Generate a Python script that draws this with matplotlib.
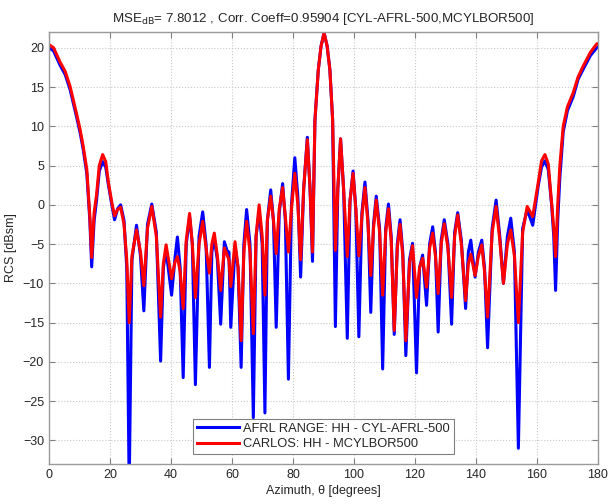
import matplotlib
matplotlib.use("Agg")
import matplotlib.pyplot as plt

plt.rcParams["font.family"] = ["Liberation Sans", "DejaVu Sans"]

# Azimuth samples (degrees): peaks, nulls and shoulders
azimut = [
    0.0, 1.5, 3.6, 5.3, 6.9, 9.1, 10.2, 11.2, 12.4, 13.4, 14.0, 14.8, 15.6, 16.5,
    17.6, 18.6, 19.5, 20.6, 21.5, 22.5, 23.5, 24.6, 25.5, 26.3, 27.2, 28.7, 30.0,
    31.1, 32.3, 33.7, 35.2, 36.6, 37.5, 38.4, 40.2, 41.3, 42.1, 43.0, 44.0, 45.0,
    46.1, 47.0, 48.0, 49.2, 50.4, 51.5, 52.6, 53.4, 54.2, 55.2, 56.3, 57.5, 58.5,
    59.0, 59.6, 61.0, 62.0, 63.0, 63.9, 64.8, 65.9, 67.0, 67.9, 68.9, 69.9, 70.8,
    71.6, 72.7, 73.6, 74.5, 75.5, 76.6, 77.5, 78.5, 79.5, 80.6, 81.6, 82.5, 83.5,
    84.7, 85.6, 86.4, 87.2, 88.3, 89.2, 90.2, 91.2, 92.1, 93.0, 93.9, 94.7, 95.6,
    96.6, 97.8, 98.7, 99.7, 100.6, 101.6, 102.6, 103.6, 104.6, 105.5, 106.4, 107.3,
    108.4, 109.4, 110.4, 111.3, 112.2, 113.2, 114.2, 115.1, 116.0, 117.0, 118.2,
    119.2, 120.5, 121.5, 122.5, 123.8, 124.8, 125.8, 126.7, 127.6, 128.6, 129.6,
    130.8, 132.0, 133.0, 134.0, 135.2, 136.6, 137.5, 138.3, 139.7, 140.8, 141.9,
    142.8, 143.8, 145.3, 146.6, 147.8, 149.0, 150.3, 151.4, 152.6, 153.9, 155.3,
    156.8, 158.6, 160.4, 161.5, 162.6, 163.7, 164.8, 165.5, 166.1, 166.8, 167.5,
    168.6, 170.0, 171.9, 173.5, 175.2, 177.5, 179.6, 180.0,
]

# AFRL range measurement (blue), dBsm
rcs_afrl = [
    20.0, 19.6, 17.8, 16.6, 14.7, 11.1, 9.2, 7.1, 4.0, -2.0, -7.9, -2.0, 0.6, 4.3,
    5.5, 4.8, 2.5, 0.0, -1.9, -0.5, 0.0, -2.0, -8.0, -36.0, -7.0, -2.6, -6.5,
    -13.5, -2.5, 0.1, -3.5, -19.9, -8.0, -5.8, -11.5, -6.8, -4.1, -8.0, -22.0, -5.0,
    -1.5, -5.0, -22.9, -4.0, -0.9, -5.0, -20.7, -6.0, -4.3, -7.0, -15.2, -4.7, -6.0,
    -6.0, -15.6, -5.3, -8.0, -20.7, -5.0, -0.6, -5.0, -27.1, -4.0, -0.8, -5.0, -26.5,
    -2.0, 1.9, -2.0, -15.6, -1.0, 2.7, -2.0, -22.2, 0.0, 6.0, 1.0, -9.2, 2.0,
    8.6, 2.0, -7.2, 10.8, 17.2, 20.2, 21.9, 20.2, 17.2, 10.8, -15.5, 2.0, 8.4,
    2.0, -17.0, 0.5, 4.3, -0.5, -16.8, -1.0, 2.9, -2.0, -13.7, -2.5, 1.1,
    -3.0, -20.9, -3.0, 0.1, -4.0, -16.5, -5.0, -1.9, -6.0, -19.2, -7.0,
    -4.9, -21.4, -8.0, -6.4, -12.8, -5.0, -2.8, -6.0, -16.2, -4.5, -1.9,
    -5.0, -15.2, -3.5, -1.0, -4.5, -13.2, -6.0, -4.5, -9.2, -6.0, -4.5,
    -8.0, -18.2, -3.0, 0.6, -4.0, -10.0, -4.0, -1.7, -6.0, -31.0, -3.0,
    -0.6, -2.6, 2.4, 4.8, 5.6, 4.5, 0.0, -4.0, -10.9, -2.0, 3.5,
    9.3, 12.0, 13.8, 16.0, 17.3, 19.0, 20.0, 20.1,
]

# CARLOS simulation (red), dBsm
rcs_carlos = [
    20.4, 20.0, 18.2, 17.0, 15.1, 11.5, 9.6, 7.5, 4.5, -1.5, -6.7, -1.0, 1.3, 5.0,
    6.4, 5.5, 2.8, 0.3, -1.4, -0.6, -0.3, -2.5, -7.0, -15.0, -6.5, -3.2, -6.0,
    -10.3, -3.0, -0.2, -4.0, -14.3, -7.5, -5.1, -9.4, -7.3, -6.6, -8.5, -13.2, -4.5,
    -1.1, -5.0, -11.8, -5.0, -2.1, -5.5, -8.7, -5.0, -3.6, -6.5, -10.9, -5.5, -6.5,
    -7.0, -10.4, -4.7, -8.0, -17.3, -6.0, -2.1, -6.0, -16.4, -4.0, 0.0, -4.0, -11.5,
    -2.0, 1.1, -2.0, -6.2, -0.5, 2.2, -1.5, -6.0, -0.5, 4.0, 0.0, -7.0, 2.0,
    8.3, 2.0, -6.0, 10.8, 17.2, 20.2, 21.9, 20.2, 17.2, 10.8, -5.8, 2.0, 8.4,
    2.0, -6.6, 0.5, 4.0, -0.5, -6.5, -1.5, 2.2, -2.5, -9.0, -3.0, 0.6,
    -3.5, -11.5, -3.5, -0.5, -4.5, -16.0, -5.5, -2.5, -6.5, -17.3, -7.5,
    -5.2, -11.8, -8.0, -6.8, -10.5, -5.5, -3.6, -6.5, -11.3, -5.0, -2.4,
    -5.5, -11.8, -4.0, -1.3, -5.0, -12.2, -7.5, -6.3, -9.0, -6.5, -5.1,
    -8.5, -14.3, -3.5, -0.2, -4.5, -10.0, -5.0, -3.2, -6.5, -15.0, -3.5,
    -0.2, -1.5, 2.8, 5.6, 6.4, 5.2, 0.2, -3.0, -6.6, 0.0, 5.0,
    10.0, 12.5, 14.3, 16.3, 17.7, 19.4, 20.5, 20.5,
]

titulo = "MSE$_{\\mathrm{dB}}$= 7.8012 , Corr. Coeff=0.95904 [CYL-AFRL-500,MCYLBOR500]"
etiquetas = ["AFRL RANGE: HH - CYL-AFRL-500", "CARLOS: HH - MCYLBOR500"]

fig = plt.figure(figsize=(6.10, 5.04), dpi=100)
ax = fig.add_axes([0.0803, 0.0794, 0.9, 0.857])

ax.plot(azimut, rcs_afrl, color="#0000ff", lw=2.2, solid_joinstyle="round",
        label=etiquetas[0])
ax.plot(azimut, rcs_carlos, color="#ff0000", lw=2.2, solid_joinstyle="round",
        label=etiquetas[1])

ax.set_xlim(0, 180)
ax.set_ylim(-33, 22)
ax.set_xticks(range(0, 181, 20))
ax.set_yticks(range(-30, 21, 5))

# estilo tipo MATLAB
ax.grid(True, color="#c8c8c8", linestyle=":", linewidth=0.8)
ax.tick_params(direction="in", length=4, width=0.8, color="#808080",
               top=True, right=True, labelsize=9, labelcolor="#262626")
for lado in ax.spines.values():
    lado.set_color("#9a9a9a")
    lado.set_linewidth(1.0)

ax.set_title(titulo, fontsize=9.6, color="#262626", pad=7)
ax.set_xlabel("Azimuth, \u03b8 [degrees]", fontsize=9, color="#262626", labelpad=3)
ax.set_ylabel("RCS [dBsm]", fontsize=9, color="#262626", labelpad=4)

leg = ax.legend(loc="lower center", bbox_to_anchor=(0.5, 0.023), borderaxespad=0,
                fontsize=9.3, fancybox=False, framealpha=1, edgecolor="#808080",
                handlelength=3.2, handletextpad=0.35, borderpad=0.3,
                labelspacing=0.25)
leg.get_frame().set_linewidth(0.8)
for t in leg.get_texts():
    t.set_color("#262626")

fig.savefig("out.png", dpi=100)
